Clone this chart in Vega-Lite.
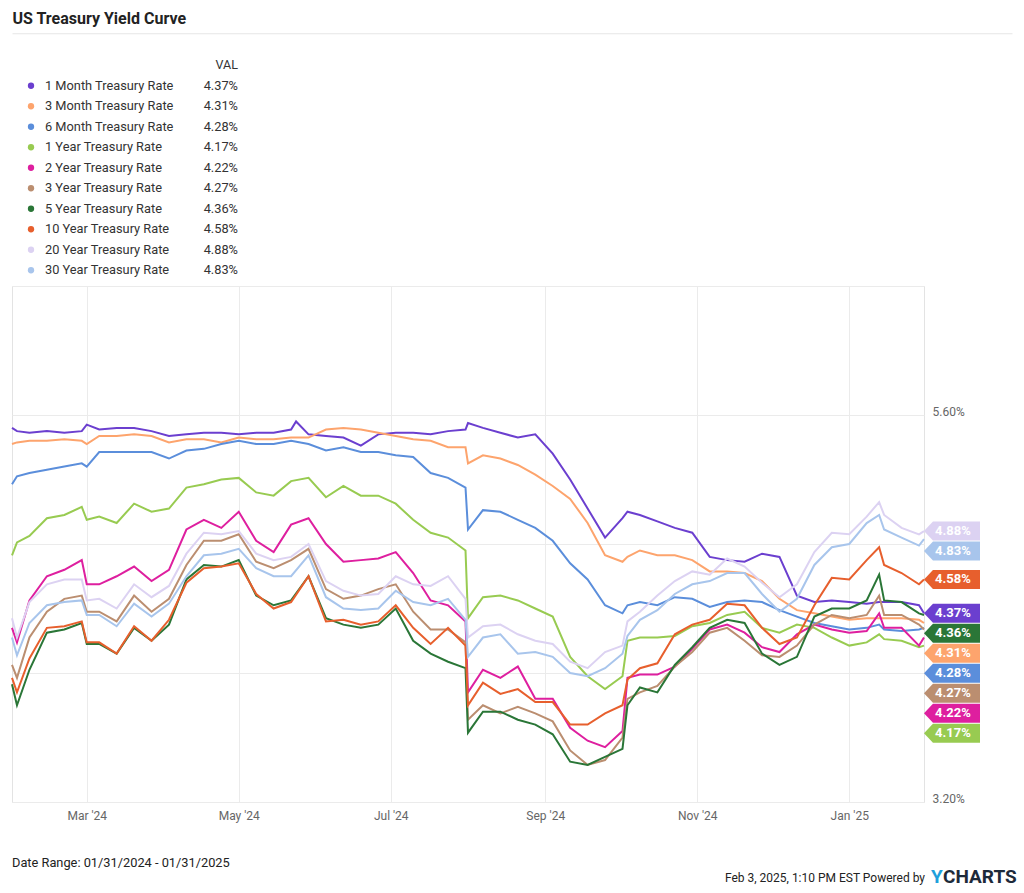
{
"$schema":"https://vega.github.io/schema/vega-lite/v6.json",
"background":"white",
"padding":{"left":7,"top":11,"right":4,"bottom":0},
"spacing":4,
"config":{"font":"Roboto","view":{"stroke":null},"text":{"font":"Roboto"},"axis":{"labelFont":"Roboto","titleFont":"Roboto"}},
"title":{"text":"US Treasury Yield Curve","anchor":"start","fontSize":16,"fontWeight":"bold","color":"#222222","font":"Roboto","offset":6,"dx":5},
"datasets":{
"last":[
{"s":"1M","name":"1 Month Treasury Rate","val":4.37,"order":1},
{"s":"3M","name":"3 Month Treasury Rate","val":4.31,"order":2},
{"s":"6M","name":"6 Month Treasury Rate","val":4.28,"order":3},
{"s":"1Y","name":"1 Year Treasury Rate","val":4.17,"order":4},
{"s":"2Y","name":"2 Year Treasury Rate","val":4.22,"order":5},
{"s":"3Y","name":"3 Year Treasury Rate","val":4.27,"order":6},
{"s":"5Y","name":"5 Year Treasury Rate","val":4.36,"order":7},
{"s":"10Y","name":"10 Year Treasury Rate","val":4.58,"order":8},
{"s":"20Y","name":"20 Year Treasury Rate","val":4.88,"order":9},
{"s":"30Y","name":"30 Year Treasury Rate","val":4.83,"order":10}],
"series":[
{"d":"2024-01-31","s":"1M","v":5.52},{"d":"2024-02-02","s":"1M","v":5.50},{"d":"2024-02-07","s":"1M","v":5.49},{"d":"2024-02-14","s":"1M","v":5.50},{"d":"2024-02-21","s":"1M","v":5.49},{"d":"2024-02-28","s":"1M","v":5.50},
{"d":"2024-03-01","s":"1M","v":5.54},{"d":"2024-03-06","s":"1M","v":5.51},{"d":"2024-03-13","s":"1M","v":5.52},{"d":"2024-03-20","s":"1M","v":5.52},{"d":"2024-03-27","s":"1M","v":5.50},
{"d":"2024-04-03","s":"1M","v":5.47},{"d":"2024-04-10","s":"1M","v":5.48},{"d":"2024-04-17","s":"1M","v":5.49},{"d":"2024-04-24","s":"1M","v":5.49},
{"d":"2024-05-01","s":"1M","v":5.48},{"d":"2024-05-08","s":"1M","v":5.49},{"d":"2024-05-15","s":"1M","v":5.49},{"d":"2024-05-22","s":"1M","v":5.51},{"d":"2024-05-24","s":"1M","v":5.56},{"d":"2024-05-29","s":"1M","v":5.48},
{"d":"2024-06-05","s":"1M","v":5.47},{"d":"2024-06-12","s":"1M","v":5.46},{"d":"2024-06-19","s":"1M","v":5.41},{"d":"2024-06-26","s":"1M","v":5.48},
{"d":"2024-07-03","s":"1M","v":5.49},{"d":"2024-07-10","s":"1M","v":5.49},{"d":"2024-07-17","s":"1M","v":5.48},{"d":"2024-07-24","s":"1M","v":5.50},{"d":"2024-07-31","s":"1M","v":5.51},
{"d":"2024-08-01","s":"1M","v":5.55},{"d":"2024-08-07","s":"1M","v":5.52},{"d":"2024-08-14","s":"1M","v":5.49},{"d":"2024-08-21","s":"1M","v":5.46},{"d":"2024-08-28","s":"1M","v":5.48},
{"d":"2024-09-04","s":"1M","v":5.36},{"d":"2024-09-11","s":"1M","v":5.20},{"d":"2024-09-18","s":"1M","v":5.02},{"d":"2024-09-25","s":"1M","v":4.84},
{"d":"2024-10-02","s":"1M","v":4.96},{"d":"2024-10-04","s":"1M","v":5.00},{"d":"2024-10-09","s":"1M","v":4.98},{"d":"2024-10-16","s":"1M","v":4.94},{"d":"2024-10-23","s":"1M","v":4.90},{"d":"2024-10-30","s":"1M","v":4.87},
{"d":"2024-11-06","s":"1M","v":4.72},{"d":"2024-11-13","s":"1M","v":4.70},{"d":"2024-11-20","s":"1M","v":4.69},{"d":"2024-11-27","s":"1M","v":4.74},
{"d":"2024-12-04","s":"1M","v":4.72},{"d":"2024-12-11","s":"1M","v":4.48},{"d":"2024-12-18","s":"1M","v":4.44},{"d":"2024-12-25","s":"1M","v":4.45},
{"d":"2025-01-01","s":"1M","v":4.44},{"d":"2025-01-08","s":"1M","v":4.43},{"d":"2025-01-13","s":"1M","v":4.44},{"d":"2025-01-15","s":"1M","v":4.44},{"d":"2025-01-22","s":"1M","v":4.44},{"d":"2025-01-29","s":"1M","v":4.42},{"d":"2025-01-31","s":"1M","v":4.37},

{"d":"2024-01-31","s":"3M","v":5.42},{"d":"2024-02-02","s":"3M","v":5.43},{"d":"2024-02-07","s":"3M","v":5.44},{"d":"2024-02-14","s":"3M","v":5.44},{"d":"2024-02-21","s":"3M","v":5.45},{"d":"2024-02-28","s":"3M","v":5.44},
{"d":"2024-03-01","s":"3M","v":5.42},{"d":"2024-03-06","s":"3M","v":5.47},{"d":"2024-03-13","s":"3M","v":5.47},{"d":"2024-03-20","s":"3M","v":5.48},{"d":"2024-03-27","s":"3M","v":5.47},
{"d":"2024-04-03","s":"3M","v":5.43},{"d":"2024-04-10","s":"3M","v":5.45},{"d":"2024-04-17","s":"3M","v":5.45},{"d":"2024-04-24","s":"3M","v":5.43},
{"d":"2024-05-01","s":"3M","v":5.46},{"d":"2024-05-08","s":"3M","v":5.45},{"d":"2024-05-15","s":"3M","v":5.45},{"d":"2024-05-22","s":"3M","v":5.46},{"d":"2024-05-29","s":"3M","v":5.46},
{"d":"2024-06-05","s":"3M","v":5.51},{"d":"2024-06-12","s":"3M","v":5.52},{"d":"2024-06-19","s":"3M","v":5.51},{"d":"2024-06-26","s":"3M","v":5.49},
{"d":"2024-07-03","s":"3M","v":5.47},{"d":"2024-07-10","s":"3M","v":5.45},{"d":"2024-07-17","s":"3M","v":5.44},{"d":"2024-07-24","s":"3M","v":5.40},{"d":"2024-07-31","s":"3M","v":5.40},
{"d":"2024-08-01","s":"3M","v":5.30},{"d":"2024-08-07","s":"3M","v":5.35},{"d":"2024-08-14","s":"3M","v":5.33},{"d":"2024-08-21","s":"3M","v":5.29},{"d":"2024-08-28","s":"3M","v":5.23},
{"d":"2024-09-04","s":"3M","v":5.16},{"d":"2024-09-11","s":"3M","v":5.08},{"d":"2024-09-18","s":"3M","v":4.93},{"d":"2024-09-25","s":"3M","v":4.73},
{"d":"2024-10-02","s":"3M","v":4.69},{"d":"2024-10-04","s":"3M","v":4.72},{"d":"2024-10-09","s":"3M","v":4.76},{"d":"2024-10-16","s":"3M","v":4.73},{"d":"2024-10-23","s":"3M","v":4.73},{"d":"2024-10-30","s":"3M","v":4.70},
{"d":"2024-11-06","s":"3M","v":4.63},{"d":"2024-11-13","s":"3M","v":4.63},{"d":"2024-11-20","s":"3M","v":4.62},{"d":"2024-11-27","s":"3M","v":4.57},
{"d":"2024-12-04","s":"3M","v":4.46},{"d":"2024-12-11","s":"3M","v":4.39},{"d":"2024-12-18","s":"3M","v":4.37},{"d":"2024-12-25","s":"3M","v":4.35},
{"d":"2025-01-01","s":"3M","v":4.33},{"d":"2025-01-08","s":"3M","v":4.34},{"d":"2025-01-13","s":"3M","v":4.34},{"d":"2025-01-15","s":"3M","v":4.34},{"d":"2025-01-22","s":"3M","v":4.34},{"d":"2025-01-29","s":"3M","v":4.33},{"d":"2025-01-31","s":"3M","v":4.31},

{"d":"2024-01-31","s":"6M","v":5.17},{"d":"2024-02-02","s":"6M","v":5.22},{"d":"2024-02-07","s":"6M","v":5.24},{"d":"2024-02-14","s":"6M","v":5.26},{"d":"2024-02-21","s":"6M","v":5.28},{"d":"2024-02-28","s":"6M","v":5.30},
{"d":"2024-03-01","s":"6M","v":5.28},{"d":"2024-03-06","s":"6M","v":5.37},{"d":"2024-03-13","s":"6M","v":5.37},{"d":"2024-03-20","s":"6M","v":5.37},{"d":"2024-03-27","s":"6M","v":5.37},
{"d":"2024-04-03","s":"6M","v":5.33},{"d":"2024-04-10","s":"6M","v":5.38},{"d":"2024-04-17","s":"6M","v":5.39},{"d":"2024-04-24","s":"6M","v":5.42},
{"d":"2024-05-01","s":"6M","v":5.44},{"d":"2024-05-08","s":"6M","v":5.42},{"d":"2024-05-15","s":"6M","v":5.42},{"d":"2024-05-22","s":"6M","v":5.44},{"d":"2024-05-29","s":"6M","v":5.42},
{"d":"2024-06-05","s":"6M","v":5.38},{"d":"2024-06-12","s":"6M","v":5.40},{"d":"2024-06-19","s":"6M","v":5.37},{"d":"2024-06-26","s":"6M","v":5.37},
{"d":"2024-07-03","s":"6M","v":5.35},{"d":"2024-07-10","s":"6M","v":5.34},{"d":"2024-07-17","s":"6M","v":5.24},{"d":"2024-07-24","s":"6M","v":5.21},{"d":"2024-07-31","s":"6M","v":5.15},
{"d":"2024-08-01","s":"6M","v":4.89},{"d":"2024-08-07","s":"6M","v":5.01},{"d":"2024-08-14","s":"6M","v":5.00},{"d":"2024-08-21","s":"6M","v":4.95},{"d":"2024-08-28","s":"6M","v":4.90},
{"d":"2024-09-04","s":"6M","v":4.82},{"d":"2024-09-11","s":"6M","v":4.68},{"d":"2024-09-18","s":"6M","v":4.58},{"d":"2024-09-25","s":"6M","v":4.42},
{"d":"2024-10-02","s":"6M","v":4.37},{"d":"2024-10-04","s":"6M","v":4.42},{"d":"2024-10-09","s":"6M","v":4.44},{"d":"2024-10-16","s":"6M","v":4.42},{"d":"2024-10-23","s":"6M","v":4.47},{"d":"2024-10-30","s":"6M","v":4.46},
{"d":"2024-11-06","s":"6M","v":4.41},{"d":"2024-11-13","s":"6M","v":4.44},{"d":"2024-11-20","s":"6M","v":4.45},{"d":"2024-11-27","s":"6M","v":4.44},
{"d":"2024-12-04","s":"6M","v":4.39},{"d":"2024-12-11","s":"6M","v":4.35},{"d":"2024-12-18","s":"6M","v":4.31},{"d":"2024-12-25","s":"6M","v":4.29},
{"d":"2025-01-01","s":"6M","v":4.27},{"d":"2025-01-08","s":"6M","v":4.28},{"d":"2025-01-13","s":"6M","v":4.30},{"d":"2025-01-15","s":"6M","v":4.27},{"d":"2025-01-22","s":"6M","v":4.26},{"d":"2025-01-29","s":"6M","v":4.27},{"d":"2025-01-31","s":"6M","v":4.28},

{"d":"2024-01-31","s":"1Y","v":4.73},{"d":"2024-02-02","s":"1Y","v":4.81},{"d":"2024-02-07","s":"1Y","v":4.85},{"d":"2024-02-14","s":"1Y","v":4.96},{"d":"2024-02-21","s":"1Y","v":4.98},{"d":"2024-02-28","s":"1Y","v":5.03},
{"d":"2024-03-01","s":"1Y","v":4.95},{"d":"2024-03-06","s":"1Y","v":4.97},{"d":"2024-03-13","s":"1Y","v":4.93},{"d":"2024-03-20","s":"1Y","v":5.05},{"d":"2024-03-27","s":"1Y","v":5.00},
{"d":"2024-04-03","s":"1Y","v":5.02},{"d":"2024-04-10","s":"1Y","v":5.15},{"d":"2024-04-17","s":"1Y","v":5.17},{"d":"2024-04-24","s":"1Y","v":5.20},
{"d":"2024-05-01","s":"1Y","v":5.21},{"d":"2024-05-08","s":"1Y","v":5.12},{"d":"2024-05-15","s":"1Y","v":5.10},{"d":"2024-05-22","s":"1Y","v":5.19},{"d":"2024-05-29","s":"1Y","v":5.21},
{"d":"2024-06-05","s":"1Y","v":5.09},{"d":"2024-06-12","s":"1Y","v":5.16},{"d":"2024-06-19","s":"1Y","v":5.10},{"d":"2024-06-26","s":"1Y","v":5.10},
{"d":"2024-07-03","s":"1Y","v":5.05},{"d":"2024-07-10","s":"1Y","v":4.95},{"d":"2024-07-17","s":"1Y","v":4.87},{"d":"2024-07-24","s":"1Y","v":4.84},{"d":"2024-07-31","s":"1Y","v":4.76},
{"d":"2024-08-01","s":"1Y","v":4.34},{"d":"2024-08-07","s":"1Y","v":4.47},{"d":"2024-08-14","s":"1Y","v":4.48},{"d":"2024-08-21","s":"1Y","v":4.45},{"d":"2024-08-28","s":"1Y","v":4.40},
{"d":"2024-09-04","s":"1Y","v":4.35},{"d":"2024-09-11","s":"1Y","v":4.10},{"d":"2024-09-18","s":"1Y","v":3.98},{"d":"2024-09-25","s":"1Y","v":3.90},
{"d":"2024-10-02","s":"1Y","v":3.98},{"d":"2024-10-04","s":"1Y","v":4.20},{"d":"2024-10-09","s":"1Y","v":4.22},{"d":"2024-10-16","s":"1Y","v":4.22},{"d":"2024-10-23","s":"1Y","v":4.23},{"d":"2024-10-30","s":"1Y","v":4.29},
{"d":"2024-11-06","s":"1Y","v":4.31},{"d":"2024-11-13","s":"1Y","v":4.36},{"d":"2024-11-20","s":"1Y","v":4.38},{"d":"2024-11-27","s":"1Y","v":4.28},
{"d":"2024-12-04","s":"1Y","v":4.25},{"d":"2024-12-11","s":"1Y","v":4.30},{"d":"2024-12-18","s":"1Y","v":4.28},{"d":"2024-12-25","s":"1Y","v":4.22},
{"d":"2025-01-01","s":"1Y","v":4.17},{"d":"2025-01-08","s":"1Y","v":4.19},{"d":"2025-01-13","s":"1Y","v":4.24},{"d":"2025-01-15","s":"1Y","v":4.21},{"d":"2025-01-22","s":"1Y","v":4.20},{"d":"2025-01-29","s":"1Y","v":4.16},{"d":"2025-01-31","s":"1Y","v":4.17},

{"d":"2024-01-31","s":"2Y","v":4.28},{"d":"2024-02-02","s":"2Y","v":4.19},{"d":"2024-02-07","s":"2Y","v":4.45},{"d":"2024-02-14","s":"2Y","v":4.60},{"d":"2024-02-21","s":"2Y","v":4.64},{"d":"2024-02-28","s":"2Y","v":4.70},
{"d":"2024-03-01","s":"2Y","v":4.55},{"d":"2024-03-06","s":"2Y","v":4.55},{"d":"2024-03-13","s":"2Y","v":4.60},{"d":"2024-03-20","s":"2Y","v":4.66},{"d":"2024-03-27","s":"2Y","v":4.57},
{"d":"2024-04-03","s":"2Y","v":4.64},{"d":"2024-04-10","s":"2Y","v":4.89},{"d":"2024-04-17","s":"2Y","v":4.95},{"d":"2024-04-24","s":"2Y","v":4.90},
{"d":"2024-05-01","s":"2Y","v":5.00},{"d":"2024-05-08","s":"2Y","v":4.82},{"d":"2024-05-15","s":"2Y","v":4.75},{"d":"2024-05-22","s":"2Y","v":4.92},{"d":"2024-05-29","s":"2Y","v":4.96},
{"d":"2024-06-05","s":"2Y","v":4.80},{"d":"2024-06-12","s":"2Y","v":4.69},{"d":"2024-06-19","s":"2Y","v":4.70},{"d":"2024-06-26","s":"2Y","v":4.71},
{"d":"2024-07-03","s":"2Y","v":4.75},{"d":"2024-07-10","s":"2Y","v":4.62},{"d":"2024-07-17","s":"2Y","v":4.45},{"d":"2024-07-24","s":"2Y","v":4.42},{"d":"2024-07-31","s":"2Y","v":4.32},
{"d":"2024-08-01","s":"2Y","v":3.88},{"d":"2024-08-07","s":"2Y","v":4.02},{"d":"2024-08-14","s":"2Y","v":3.97},{"d":"2024-08-21","s":"2Y","v":4.04},{"d":"2024-08-28","s":"2Y","v":3.84},
{"d":"2024-09-04","s":"2Y","v":3.84},{"d":"2024-09-11","s":"2Y","v":3.66},{"d":"2024-09-18","s":"2Y","v":3.58},{"d":"2024-09-25","s":"2Y","v":3.54},
{"d":"2024-10-02","s":"2Y","v":3.64},{"d":"2024-10-04","s":"2Y","v":3.97},{"d":"2024-10-09","s":"2Y","v":3.99},{"d":"2024-10-16","s":"2Y","v":3.99},{"d":"2024-10-23","s":"2Y","v":4.04},{"d":"2024-10-30","s":"2Y","v":4.15},
{"d":"2024-11-06","s":"2Y","v":4.27},{"d":"2024-11-13","s":"2Y","v":4.30},{"d":"2024-11-20","s":"2Y","v":4.25},{"d":"2024-11-27","s":"2Y","v":4.16},
{"d":"2024-12-04","s":"2Y","v":4.13},{"d":"2024-12-11","s":"2Y","v":4.24},{"d":"2024-12-18","s":"2Y","v":4.30},{"d":"2024-12-25","s":"2Y","v":4.27},
{"d":"2025-01-01","s":"2Y","v":4.25},{"d":"2025-01-08","s":"2Y","v":4.26},{"d":"2025-01-13","s":"2Y","v":4.37},{"d":"2025-01-15","s":"2Y","v":4.28},{"d":"2025-01-22","s":"2Y","v":4.28},{"d":"2025-01-29","s":"2Y","v":4.17},{"d":"2025-01-31","s":"2Y","v":4.22},

{"d":"2024-01-31","s":"3Y","v":4.05},{"d":"2024-02-02","s":"3Y","v":3.97},{"d":"2024-02-07","s":"3Y","v":4.22},{"d":"2024-02-14","s":"3Y","v":4.38},{"d":"2024-02-21","s":"3Y","v":4.46},{"d":"2024-02-28","s":"3Y","v":4.48},
{"d":"2024-03-01","s":"3Y","v":4.38},{"d":"2024-03-06","s":"3Y","v":4.38},{"d":"2024-03-13","s":"3Y","v":4.32},{"d":"2024-03-20","s":"3Y","v":4.48},{"d":"2024-03-27","s":"3Y","v":4.38},
{"d":"2024-04-03","s":"3Y","v":4.46},{"d":"2024-04-10","s":"3Y","v":4.67},{"d":"2024-04-17","s":"3Y","v":4.82},{"d":"2024-04-24","s":"3Y","v":4.82},
{"d":"2024-05-01","s":"3Y","v":4.86},{"d":"2024-05-08","s":"3Y","v":4.69},{"d":"2024-05-15","s":"3Y","v":4.65},{"d":"2024-05-22","s":"3Y","v":4.70},{"d":"2024-05-29","s":"3Y","v":4.77},
{"d":"2024-06-05","s":"3Y","v":4.52},{"d":"2024-06-12","s":"3Y","v":4.46},{"d":"2024-06-19","s":"3Y","v":4.48},{"d":"2024-06-26","s":"3Y","v":4.52},
{"d":"2024-07-03","s":"3Y","v":4.55},{"d":"2024-07-10","s":"3Y","v":4.38},{"d":"2024-07-17","s":"3Y","v":4.27},{"d":"2024-07-24","s":"3Y","v":4.27},{"d":"2024-07-31","s":"3Y","v":4.19},
{"d":"2024-08-01","s":"3Y","v":3.71},{"d":"2024-08-07","s":"3Y","v":3.80},{"d":"2024-08-14","s":"3Y","v":3.75},{"d":"2024-08-21","s":"3Y","v":3.79},{"d":"2024-08-28","s":"3Y","v":3.75},
{"d":"2024-09-04","s":"3Y","v":3.70},{"d":"2024-09-11","s":"3Y","v":3.52},{"d":"2024-09-18","s":"3Y","v":3.43},{"d":"2024-09-25","s":"3Y","v":3.46},
{"d":"2024-10-02","s":"3Y","v":3.60},{"d":"2024-10-04","s":"3Y","v":3.84},{"d":"2024-10-09","s":"3Y","v":3.88},{"d":"2024-10-16","s":"3Y","v":3.92},{"d":"2024-10-23","s":"3Y","v":4.04},{"d":"2024-10-30","s":"3Y","v":4.13},
{"d":"2024-11-06","s":"3Y","v":4.25},{"d":"2024-11-13","s":"3Y","v":4.28},{"d":"2024-11-20","s":"3Y","v":4.20},{"d":"2024-11-27","s":"3Y","v":4.11},
{"d":"2024-12-04","s":"3Y","v":4.10},{"d":"2024-12-11","s":"3Y","v":4.17},{"d":"2024-12-18","s":"3Y","v":4.30},{"d":"2024-12-25","s":"3Y","v":4.36},
{"d":"2025-01-01","s":"3Y","v":4.34},{"d":"2025-01-08","s":"3Y","v":4.36},{"d":"2025-01-13","s":"3Y","v":4.48},{"d":"2025-01-15","s":"3Y","v":4.36},{"d":"2025-01-22","s":"3Y","v":4.36},{"d":"2025-01-29","s":"3Y","v":4.30},{"d":"2025-01-31","s":"3Y","v":4.27},

{"d":"2024-01-31","s":"5Y","v":3.93},{"d":"2024-02-02","s":"5Y","v":3.80},{"d":"2024-02-07","s":"5Y","v":4.02},{"d":"2024-02-14","s":"5Y","v":4.25},{"d":"2024-02-21","s":"5Y","v":4.27},{"d":"2024-02-28","s":"5Y","v":4.31},
{"d":"2024-03-01","s":"5Y","v":4.18},{"d":"2024-03-06","s":"5Y","v":4.18},{"d":"2024-03-13","s":"5Y","v":4.12},{"d":"2024-03-20","s":"5Y","v":4.28},{"d":"2024-03-27","s":"5Y","v":4.20},
{"d":"2024-04-03","s":"5Y","v":4.30},{"d":"2024-04-10","s":"5Y","v":4.58},{"d":"2024-04-17","s":"5Y","v":4.67},{"d":"2024-04-24","s":"5Y","v":4.66},
{"d":"2024-05-01","s":"5Y","v":4.70},{"d":"2024-05-08","s":"5Y","v":4.48},{"d":"2024-05-15","s":"5Y","v":4.42},{"d":"2024-05-22","s":"5Y","v":4.45},{"d":"2024-05-29","s":"5Y","v":4.60},
{"d":"2024-06-05","s":"5Y","v":4.34},{"d":"2024-06-12","s":"5Y","v":4.30},{"d":"2024-06-19","s":"5Y","v":4.28},{"d":"2024-06-26","s":"5Y","v":4.30},
{"d":"2024-07-03","s":"5Y","v":4.40},{"d":"2024-07-10","s":"5Y","v":4.20},{"d":"2024-07-17","s":"5Y","v":4.12},{"d":"2024-07-24","s":"5Y","v":4.07},{"d":"2024-07-31","s":"5Y","v":4.03},
{"d":"2024-08-01","s":"5Y","v":3.63},{"d":"2024-08-07","s":"5Y","v":3.76},{"d":"2024-08-14","s":"5Y","v":3.76},{"d":"2024-08-21","s":"5Y","v":3.71},{"d":"2024-08-28","s":"5Y","v":3.68},
{"d":"2024-09-04","s":"5Y","v":3.62},{"d":"2024-09-11","s":"5Y","v":3.45},{"d":"2024-09-18","s":"5Y","v":3.43},{"d":"2024-09-25","s":"5Y","v":3.48},
{"d":"2024-10-02","s":"5Y","v":3.53},{"d":"2024-10-04","s":"5Y","v":3.80},{"d":"2024-10-09","s":"5Y","v":3.91},{"d":"2024-10-16","s":"5Y","v":3.88},{"d":"2024-10-23","s":"5Y","v":4.05},{"d":"2024-10-30","s":"5Y","v":4.16},
{"d":"2024-11-06","s":"5Y","v":4.28},{"d":"2024-11-13","s":"5Y","v":4.33},{"d":"2024-11-20","s":"5Y","v":4.31},{"d":"2024-11-27","s":"5Y","v":4.12},
{"d":"2024-12-04","s":"5Y","v":4.05},{"d":"2024-12-11","s":"5Y","v":4.10},{"d":"2024-12-18","s":"5Y","v":4.35},{"d":"2024-12-25","s":"5Y","v":4.40},
{"d":"2025-01-01","s":"5Y","v":4.40},{"d":"2025-01-08","s":"5Y","v":4.45},{"d":"2025-01-13","s":"5Y","v":4.61},{"d":"2025-01-15","s":"5Y","v":4.45},{"d":"2025-01-22","s":"5Y","v":4.44},{"d":"2025-01-29","s":"5Y","v":4.37},{"d":"2025-01-31","s":"5Y","v":4.36},

{"d":"2024-01-31","s":"10Y","v":3.97},{"d":"2024-02-02","s":"10Y","v":3.88},{"d":"2024-02-07","s":"10Y","v":4.09},{"d":"2024-02-14","s":"10Y","v":4.28},{"d":"2024-02-21","s":"10Y","v":4.29},{"d":"2024-02-28","s":"10Y","v":4.32},
{"d":"2024-03-01","s":"10Y","v":4.19},{"d":"2024-03-06","s":"10Y","v":4.19},{"d":"2024-03-13","s":"10Y","v":4.12},{"d":"2024-03-20","s":"10Y","v":4.29},{"d":"2024-03-27","s":"10Y","v":4.20},
{"d":"2024-04-03","s":"10Y","v":4.33},{"d":"2024-04-10","s":"10Y","v":4.56},{"d":"2024-04-17","s":"10Y","v":4.65},{"d":"2024-04-24","s":"10Y","v":4.66},
{"d":"2024-05-01","s":"10Y","v":4.68},{"d":"2024-05-08","s":"10Y","v":4.49},{"d":"2024-05-15","s":"10Y","v":4.40},{"d":"2024-05-22","s":"10Y","v":4.44},{"d":"2024-05-29","s":"10Y","v":4.60},
{"d":"2024-06-05","s":"10Y","v":4.32},{"d":"2024-06-12","s":"10Y","v":4.33},{"d":"2024-06-19","s":"10Y","v":4.30},{"d":"2024-06-26","s":"10Y","v":4.32},
{"d":"2024-07-03","s":"10Y","v":4.42},{"d":"2024-07-10","s":"10Y","v":4.28},{"d":"2024-07-17","s":"10Y","v":4.18},{"d":"2024-07-24","s":"10Y","v":4.28},{"d":"2024-07-31","s":"10Y","v":4.17},
{"d":"2024-08-01","s":"10Y","v":3.80},{"d":"2024-08-07","s":"10Y","v":3.94},{"d":"2024-08-14","s":"10Y","v":3.87},{"d":"2024-08-21","s":"10Y","v":3.90},{"d":"2024-08-28","s":"10Y","v":3.82},
{"d":"2024-09-04","s":"10Y","v":3.82},{"d":"2024-09-11","s":"10Y","v":3.68},{"d":"2024-09-18","s":"10Y","v":3.68},{"d":"2024-09-25","s":"10Y","v":3.75},
{"d":"2024-10-02","s":"10Y","v":3.80},{"d":"2024-10-04","s":"10Y","v":3.96},{"d":"2024-10-09","s":"10Y","v":4.03},{"d":"2024-10-16","s":"10Y","v":4.06},{"d":"2024-10-23","s":"10Y","v":4.24},{"d":"2024-10-30","s":"10Y","v":4.30},
{"d":"2024-11-06","s":"10Y","v":4.33},{"d":"2024-11-13","s":"10Y","v":4.43},{"d":"2024-11-20","s":"10Y","v":4.42},{"d":"2024-11-27","s":"10Y","v":4.28},
{"d":"2024-12-04","s":"10Y","v":4.18},{"d":"2024-12-11","s":"10Y","v":4.22},{"d":"2024-12-18","s":"10Y","v":4.42},{"d":"2024-12-25","s":"10Y","v":4.59},
{"d":"2025-01-01","s":"10Y","v":4.58},{"d":"2025-01-08","s":"10Y","v":4.70},{"d":"2025-01-13","s":"10Y","v":4.78},{"d":"2025-01-15","s":"10Y","v":4.67},{"d":"2025-01-22","s":"10Y","v":4.62},{"d":"2025-01-29","s":"10Y","v":4.55},{"d":"2025-01-31","s":"10Y","v":4.58},

{"d":"2024-01-31","s":"20Y","v":4.34},{"d":"2024-02-02","s":"20Y","v":4.22},{"d":"2024-02-07","s":"20Y","v":4.44},{"d":"2024-02-14","s":"20Y","v":4.55},{"d":"2024-02-21","s":"20Y","v":4.58},{"d":"2024-02-28","s":"20Y","v":4.58},
{"d":"2024-03-01","s":"20Y","v":4.45},{"d":"2024-03-06","s":"20Y","v":4.46},{"d":"2024-03-13","s":"20Y","v":4.40},{"d":"2024-03-20","s":"20Y","v":4.55},{"d":"2024-03-27","s":"20Y","v":4.47},
{"d":"2024-04-03","s":"20Y","v":4.54},{"d":"2024-04-10","s":"20Y","v":4.74},{"d":"2024-04-17","s":"20Y","v":4.87},{"d":"2024-04-24","s":"20Y","v":4.86},
{"d":"2024-05-01","s":"20Y","v":4.88},{"d":"2024-05-08","s":"20Y","v":4.74},{"d":"2024-05-15","s":"20Y","v":4.70},{"d":"2024-05-22","s":"20Y","v":4.72},{"d":"2024-05-29","s":"20Y","v":4.80},
{"d":"2024-06-05","s":"20Y","v":4.57},{"d":"2024-06-12","s":"20Y","v":4.51},{"d":"2024-06-19","s":"20Y","v":4.48},{"d":"2024-06-26","s":"20Y","v":4.49},
{"d":"2024-07-03","s":"20Y","v":4.60},{"d":"2024-07-10","s":"20Y","v":4.55},{"d":"2024-07-17","s":"20Y","v":4.54},{"d":"2024-07-24","s":"20Y","v":4.60},{"d":"2024-07-31","s":"20Y","v":4.46},
{"d":"2024-08-01","s":"20Y","v":4.22},{"d":"2024-08-07","s":"20Y","v":4.29},{"d":"2024-08-14","s":"20Y","v":4.30},{"d":"2024-08-21","s":"20Y","v":4.24},{"d":"2024-08-28","s":"20Y","v":4.20},
{"d":"2024-09-04","s":"20Y","v":4.18},{"d":"2024-09-11","s":"20Y","v":4.07},{"d":"2024-09-18","s":"20Y","v":4.03},{"d":"2024-09-25","s":"20Y","v":4.13},
{"d":"2024-10-02","s":"20Y","v":4.17},{"d":"2024-10-04","s":"20Y","v":4.32},{"d":"2024-10-09","s":"20Y","v":4.38},{"d":"2024-10-16","s":"20Y","v":4.48},{"d":"2024-10-23","s":"20Y","v":4.57},{"d":"2024-10-30","s":"20Y","v":4.63},
{"d":"2024-11-06","s":"20Y","v":4.61},{"d":"2024-11-13","s":"20Y","v":4.71},{"d":"2024-11-20","s":"20Y","v":4.66},{"d":"2024-11-27","s":"20Y","v":4.56},
{"d":"2024-12-04","s":"20Y","v":4.47},{"d":"2024-12-11","s":"20Y","v":4.55},{"d":"2024-12-18","s":"20Y","v":4.75},{"d":"2024-12-25","s":"20Y","v":4.87},
{"d":"2025-01-01","s":"20Y","v":4.86},{"d":"2025-01-08","s":"20Y","v":4.97},{"d":"2025-01-13","s":"20Y","v":5.06},{"d":"2025-01-15","s":"20Y","v":4.98},{"d":"2025-01-22","s":"20Y","v":4.90},{"d":"2025-01-29","s":"20Y","v":4.86},{"d":"2025-01-31","s":"20Y","v":4.88},

{"d":"2024-01-31","s":"30Y","v":4.22},{"d":"2024-02-02","s":"30Y","v":4.11},{"d":"2024-02-07","s":"30Y","v":4.31},{"d":"2024-02-14","s":"30Y","v":4.42},{"d":"2024-02-21","s":"30Y","v":4.44},{"d":"2024-02-28","s":"30Y","v":4.45},
{"d":"2024-03-01","s":"30Y","v":4.36},{"d":"2024-03-06","s":"30Y","v":4.36},{"d":"2024-03-13","s":"30Y","v":4.29},{"d":"2024-03-20","s":"30Y","v":4.43},{"d":"2024-03-27","s":"30Y","v":4.35},
{"d":"2024-04-03","s":"30Y","v":4.43},{"d":"2024-04-10","s":"30Y","v":4.60},{"d":"2024-04-17","s":"30Y","v":4.73},{"d":"2024-04-24","s":"30Y","v":4.74},
{"d":"2024-05-01","s":"30Y","v":4.77},{"d":"2024-05-08","s":"30Y","v":4.65},{"d":"2024-05-15","s":"30Y","v":4.60},{"d":"2024-05-22","s":"30Y","v":4.60},{"d":"2024-05-29","s":"30Y","v":4.73},
{"d":"2024-06-05","s":"30Y","v":4.47},{"d":"2024-06-12","s":"30Y","v":4.40},{"d":"2024-06-19","s":"30Y","v":4.39},{"d":"2024-06-26","s":"30Y","v":4.40},
{"d":"2024-07-03","s":"30Y","v":4.51},{"d":"2024-07-10","s":"30Y","v":4.44},{"d":"2024-07-17","s":"30Y","v":4.42},{"d":"2024-07-24","s":"30Y","v":4.46},{"d":"2024-07-31","s":"30Y","v":4.33},
{"d":"2024-08-01","s":"30Y","v":4.10},{"d":"2024-08-07","s":"30Y","v":4.22},{"d":"2024-08-14","s":"30Y","v":4.24},{"d":"2024-08-21","s":"30Y","v":4.12},{"d":"2024-08-28","s":"30Y","v":4.13},
{"d":"2024-09-04","s":"30Y","v":4.10},{"d":"2024-09-11","s":"30Y","v":4.00},{"d":"2024-09-18","s":"30Y","v":3.98},{"d":"2024-09-25","s":"30Y","v":4.03},
{"d":"2024-10-02","s":"30Y","v":4.12},{"d":"2024-10-04","s":"30Y","v":4.23},{"d":"2024-10-09","s":"30Y","v":4.33},{"d":"2024-10-16","s":"30Y","v":4.39},{"d":"2024-10-23","s":"30Y","v":4.49},{"d":"2024-10-30","s":"30Y","v":4.55},
{"d":"2024-11-06","s":"30Y","v":4.57},{"d":"2024-11-13","s":"30Y","v":4.62},{"d":"2024-11-20","s":"30Y","v":4.62},{"d":"2024-11-27","s":"30Y","v":4.49},
{"d":"2024-12-04","s":"30Y","v":4.38},{"d":"2024-12-11","s":"30Y","v":4.46},{"d":"2024-12-18","s":"30Y","v":4.67},{"d":"2024-12-25","s":"30Y","v":4.78},
{"d":"2025-01-01","s":"30Y","v":4.80},{"d":"2025-01-08","s":"30Y","v":4.93},{"d":"2025-01-13","s":"30Y","v":4.98},{"d":"2025-01-15","s":"30Y","v":4.89},{"d":"2025-01-22","s":"30Y","v":4.84},{"d":"2025-01-29","s":"30Y","v":4.79},{"d":"2025-01-31","s":"30Y","v":4.83}
]},
"vconcat":[
{
"width":1000,"height":225.5,
"view":{"stroke":null},
"layer":[
{"data":{"values":[{"order":0,"label":"VAL"}]},
 "mark":{"type":"text","align":"right","fontSize":12.5,"color":"#333333"},
 "encoding":{
  "x":{"datum":226,"type":"quantitative","scale":{"domain":[0,1000]},"axis":{"orient":"top","offset":21.75,"domainColor":"#e6e6e6","domainWidth":1,"labels":false,"ticks":false,"grid":false,"title":null}},
  "y":{"field":"order","type":"ordinal","scale":{"domain":[0,1,2,3,4,5,6,7,8,9,10]},"axis":null},
  "text":{"field":"label"}}},
{"data":{"name":"last"},
 "mark":{"type":"point","shape":"circle","filled":true,"opacity":1,"size":40},
 "encoding":{
  "x":{"datum":19,"type":"quantitative","scale":{"domain":[0,1000]}},
  "y":{"field":"order","type":"ordinal","scale":{"domain":[0,1,2,3,4,5,6,7,8,9,10]},"axis":null},
  "color":{"field":"s","type":"nominal","scale":{"domain":["1M","3M","6M","1Y","2Y","3Y","5Y","10Y","20Y","30Y"],"range":["#6b3fcf","#fda46d","#5b8edb","#98cb51","#de1f9f","#bb8e70","#2a7637","#e75f2d","#dcd2f2","#a8c5ec"]},"legend":null}}},
{"data":{"name":"last"},
 "mark":{"type":"text","align":"left","fontSize":12.8,"color":"#333333"},
 "encoding":{
  "x":{"datum":33,"type":"quantitative","scale":{"domain":[0,1000]}},
  "y":{"field":"order","type":"ordinal","scale":{"domain":[0,1,2,3,4,5,6,7,8,9,10]},"axis":null},
  "text":{"field":"name"}}},
{"data":{"name":"last"},
 "transform":[{"calculate":"format(datum.val,'.2f')+'%'","as":"label"}],
 "mark":{"type":"text","align":"right","fontSize":12.8,"color":"#333333"},
 "encoding":{
  "x":{"datum":226,"type":"quantitative","scale":{"domain":[0,1000]}},
  "y":{"field":"order","type":"ordinal","scale":{"domain":[0,1,2,3,4,5,6,7,8,9,10]},"axis":null},
  "text":{"field":"label"}}}
]},
{
"width":912,"height":516,
"view":{"stroke":"#e3e3e3","strokeWidth":1},
"layer":[
{"data":{"name":"series"},
 "mark":{"type":"line","strokeWidth":2,"interpolate":"linear"},
 "encoding":{
  "x":{"field":"d","type":"temporal",
   "scale":{"type":"utc","domain":[{"year":2024,"month":1,"date":31,"utc":true},{"year":2025,"month":1,"date":31,"utc":true}],"nice":false},
   "axis":{"values":[{"year":2024,"month":3,"date":1,"utc":true},{"year":2024,"month":5,"date":1,"utc":true},{"year":2024,"month":7,"date":1,"utc":true},{"year":2024,"month":9,"date":1,"utc":true},{"year":2024,"month":11,"date":1,"utc":true},{"year":2025,"month":1,"date":1,"utc":true}],
    "format":"%b '%y","grid":true,"gridColor":"#ebebeb","ticks":false,"domain":false,"labelPadding":8,"labelColor":"#666666","labelFontSize":12,"title":null}},
  "y":{"field":"v","type":"quantitative",
   "scale":{"domain":[3.2,6.4],"nice":false,"zero":false},
   "axis":{"orient":"right","values":[3.2,4.0,4.8,5.6,6.4],"labelExpr":"(abs(datum.value-5.6)<0.01 || abs(datum.value-3.2)<0.01) ? format(datum.value,'.2f')+'%' : ''","grid":true,"gridColor":"#ebebeb","ticks":false,"domain":false,"labelPadding":8,"labelBaseline":"alphabetic","labelColor":"#666666","labelFontSize":12,"title":null}},
  "color":{"field":"s","type":"nominal","scale":{"domain":["1M","3M","6M","1Y","2Y","3Y","5Y","10Y","20Y","30Y"],"range":["#6b3fcf","#fda46d","#5b8edb","#98cb51","#de1f9f","#bb8e70","#2a7637","#e75f2d","#dcd2f2","#a8c5ec"]},"legend":null}}},
{"data":{"name":"last"},
 "transform":[
  {"window":[{"op":"row_number","as":"i"}],"sort":[{"field":"val","order":"descending"}]},
  {"calculate":"datum.val + datum.i*0.124","as":"k"},
  {"window":[{"op":"min","field":"k","as":"m"}],"sort":[{"field":"val","order":"descending"}],"frame":[null,0]},
  {"calculate":"datum.m - datum.i*0.124","as":"pos"},
  {"calculate":"format(datum.val,'.2f')+'%'","as":"label"}],
 "layer":[
  {"mark":{"type":"point","shape":"M0,0L0.32,-0.34L2,-0.34L2,0.34L0.32,0.34Z","filled":true,"opacity":1,"size":3136,"strokeWidth":0},
   "encoding":{
    "x":{"datum":{"year":2025,"month":1,"date":31,"utc":true},"type":"temporal"},
    "y":{"field":"pos","type":"quantitative"},
    "color":{"field":"s","type":"nominal","legend":null}}},
  {"mark":{"type":"text","align":"left","dx":11,"color":"white","fontWeight":"bold","fontSize":13},
   "encoding":{
    "x":{"datum":{"year":2025,"month":1,"date":31,"utc":true},"type":"temporal"},
    "y":{"field":"pos","type":"quantitative"},
    "text":{"field":"label"}}}
 ]}
]},
{
"width":1000,"height":56,
"view":{"stroke":null},
"data":{"values":[{}]},
"layer":[
{"mark":{"type":"text","align":"left","baseline":"middle","fontSize":12.8,"color":"#222222","dy":9},
 "encoding":{"x":{"datum":0,"type":"quantitative","scale":{"domain":[0,1000]},"axis":null},"text":{"value":"Date Range: 01/31/2024 - 01/31/2025"}}},
{"mark":{"type":"text","align":"right","baseline":"middle","fontSize":12,"color":"#222222","dy":24},
 "encoding":{"x":{"datum":913,"type":"quantitative","scale":{"domain":[0,1000]},"axis":null},"text":{"value":"Feb 3, 2025, 1:10 PM EST Powered by"}}},
{"mark":{"type":"text","align":"left","baseline":"middle","fontSize":19,"fontWeight":"bold","color":"#1ea0dc","dy":23},
 "encoding":{"x":{"datum":919,"type":"quantitative","scale":{"domain":[0,1000]},"axis":null},"text":{"value":"Y"}}},
{"mark":{"type":"text","align":"left","baseline":"middle","fontSize":19,"fontWeight":"bold","color":"#1d2a3a","dy":23},
 "encoding":{"x":{"datum":931,"type":"quantitative","scale":{"domain":[0,1000]},"axis":null},"text":{"value":"CHARTS"}}}
]}
]
}
